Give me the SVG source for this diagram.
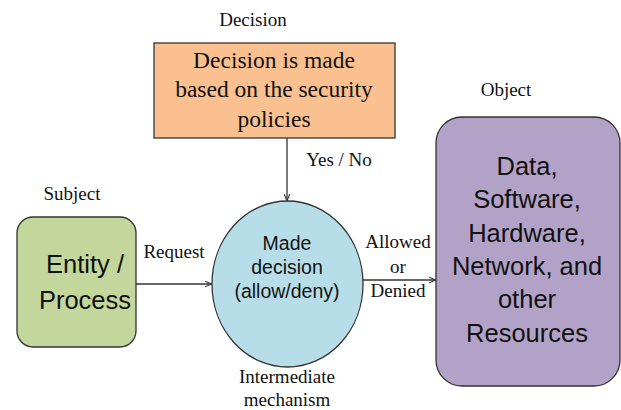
<svg xmlns="http://www.w3.org/2000/svg" width="621" height="410" viewBox="0 0 621 410">
<defs>
<style>
.lbl{font-family:"Liberation Serif","Times New Roman",Times,serif;font-size:19px;fill:#111}
.big{font-family:"Liberation Serif","Times New Roman",Times,serif;font-size:23.5px;fill:#111}
.sans{font-family:"Liberation Sans",Arial,sans-serif;fill:#111}
.edge{stroke:#333;stroke-width:1.3;fill:none;marker-end:url(#ah)}
.node{stroke:#333;stroke-width:1.3}
</style>
<marker id="ah" viewBox="0 0 10 10" refX="10" refY="5" markerWidth="7" markerHeight="7" orient="auto" markerUnits="userSpaceOnUse">
<path d="M0,1 L10,5 L0,9" fill="none" stroke="#333" stroke-width="1.5"/>
</marker>
</defs>
<rect width="621" height="410" fill="#fff"/>
<g id="connectors">
<line class="edge" x1="287" y1="138" x2="287" y2="201"/>
<line class="edge" x1="136" y1="284" x2="212" y2="284"/>
<line class="edge" x1="362" y1="280" x2="436" y2="280"/>
</g>
<g id="decision">
<text class="lbl" x="253" y="26" text-anchor="middle">Decision</text>
<rect class="node" x="154" y="43" width="241" height="95" fill="#FAC090"/>
<text class="big" text-anchor="middle"><tspan x="274" y="68">Decision is made</tspan><tspan x="274" y="97">based on the security</tspan><tspan x="274" y="127">policies</tspan></text>
</g>
<g id="yesno"><text class="lbl" x="339" y="166" text-anchor="middle">Yes / No</text></g>
<g id="subject">
<text class="lbl" x="72" y="200" text-anchor="middle">Subject</text>
<rect class="node" x="17" y="217" width="119" height="130" rx="16" fill="#C3D69B"/>
<text class="sans" font-size="25.5" text-anchor="middle"><tspan x="85" y="273">Entity /</tspan><tspan x="85" y="309">Process</tspan></text>
</g>
<g id="request"><text class="lbl" x="174" y="258" text-anchor="middle">Request</text></g>
<g id="mechanism">
<ellipse class="node" cx="287.5" cy="284" rx="75.5" ry="83" fill="#B7DEE8"/>
<text class="sans" font-size="19.5" text-anchor="middle"><tspan x="287" y="250">Made</tspan><tspan x="287" y="274">decision</tspan><tspan x="287" y="298">(allow/deny)</tspan></text>
<text class="lbl" text-anchor="middle"><tspan x="287" y="383">Intermediate</tspan><tspan x="287" y="406">mechanism</tspan></text>
</g>
<g id="allowed"><text class="lbl" text-anchor="middle"><tspan x="398" y="248">Allowed</tspan><tspan x="398" y="273">or</tspan><tspan x="398" y="297">Denied</tspan></text></g>
<g id="object">
<text class="lbl" x="506" y="96" text-anchor="middle">Object</text>
<rect class="node" x="436" y="117" width="184" height="269" rx="26" fill="#B3A2C7"/>
<text class="sans" font-size="25.5" text-anchor="middle"><tspan x="527" y="175">Data,</tspan><tspan x="527" y="208">Software,</tspan><tspan x="527" y="242">Hardware,</tspan><tspan x="527" y="275">Network, and</tspan><tspan x="527" y="308">other</tspan><tspan x="527" y="342">Resources</tspan></text>
</g>
</svg>
